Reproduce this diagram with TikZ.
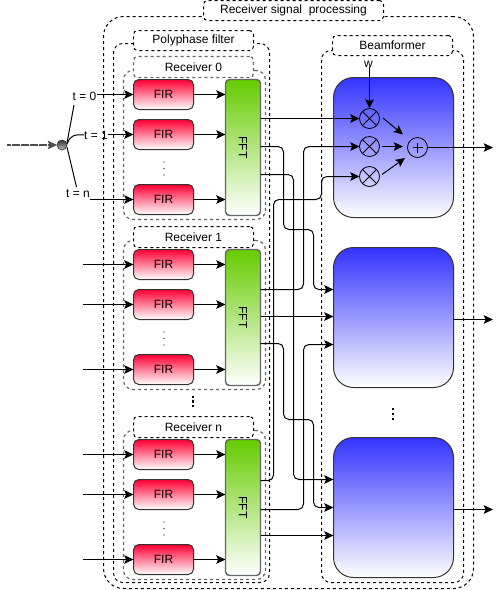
\documentclass[tikz,border=0pt]{standalone}
\usepackage{fontspec}
\setmainfont{Liberation Sans}
\usetikzlibrary{arrows.meta}
\definecolor{firtop}{HTML}{FF0033}
\definecolor{ffttop}{HTML}{66CC00}
\definecolor{bftop}{HTML}{3333FF}
\definecolor{edge}{HTML}{333333}
\definecolor{grayedge}{HTML}{666666}
\tikzset{
  x=0.75pt,y=-0.75pt,
  basebox/.style={rectangle,outer sep=0pt,inner sep=0pt,font=\fontsize{9}{11}\selectfont},
  outerbox/.style={basebox,draw=black,dashed,line width=0.75pt,dash pattern=on 2.25pt off 2.25pt},
  graybox/.style={basebox,draw=grayedge,line width=0.9pt,dash pattern=on 2.25pt off 2.25pt},
  titlebox/.style={outerbox,fill=white,rounded corners=3pt},
  graytitle/.style={graybox,fill=white,rounded corners=3pt},
  firbox/.style={basebox,draw=edge,line width=0.75pt,rounded corners=4pt,top color=firtop,bottom color=white,middle color=firtop!50!white},
  fftbox/.style={basebox,draw=grayedge,line width=1.1pt,rounded corners=3pt,top color=ffttop,bottom color=white,middle color=ffttop!50!white},
  bfbox/.style={basebox,draw=edge,line width=0.75pt,rounded corners=15pt,top color=bftop,bottom color=white,middle color=bftop!50!white},
  opnode/.style={circle,draw=black,line width=0.6pt,minimum size=15pt,inner sep=0pt,outer sep=0pt},
  arr/.style={line width=0.75pt,draw=black,-{Stealth[length=7pt,width=6.5pt,inset=1.5pt]}},
  wire/.style={arr,rounded corners=4pt},
  plain/.style={line width=0.75pt,draw=black},
  lbl/.style={font=\fontsize{9}{11}\selectfont,inner sep=0pt},
  vdots/.style={circle,fill=black,inner sep=0pt,minimum size=0.8pt},
  bdots/.style={rectangle,fill=black,inner sep=0pt,minimum size=2pt}
}
\newcommand{\Bx}[7]{\node[#6,minimum width={(#4-#2)*0.75pt},minimum height={(#5-#3)*0.75pt}] (#1) at ({(#2+#4)/2+0.5},{(#3+#5)/2+0.5}) {#7};}
\newcommand{\FFTtxt}{\rotatebox{-90}{FFT}}
\begin{document}
\begin{tikzpicture}
\useasboundingbox (0,0) rectangle (502,590);
% containers
\Bx{outer}{103}{16}{473}{588}{outerbox,rounded corners=15pt}{}
\Bx{poly}{113}{43}{269}{582}{outerbox,rounded corners=7pt}{}
\Bx{beam}{321}{50}{463}{582}{outerbox,rounded corners=7pt}{}
\Bx{rx0}{123}{70}{265}{219}{graybox,rounded corners=7pt}{}
\Bx{rx1}{123}{240}{265}{389}{graybox,rounded corners=7pt}{}
\Bx{rxn}{123}{430}{265}{579}{graybox,rounded corners=7pt}{}
% titles
\Bx{touter}{203}{0}{383}{20}{titlebox}{Receiver signal\ \ processing}
\Bx{tpoly}{133}{30}{253}{50}{titlebox}{Polyphase filter}
\Bx{tbeam}{332}{35}{452}{55}{titlebox}{Beamformer}
\Bx{trx0}{133}{56}{253}{77}{graytitle}{Receiver 0}
\Bx{trx1}{133}{226}{253}{247}{titlebox}{Receiver 1}
\Bx{trxn}{133}{416}{253}{437}{titlebox}{Receiver n}
% FIR
\Bx{fa}{133}{79}{193}{109}{firbox}{FIR}
\Bx{fb}{133}{119}{193}{149}{firbox}{FIR}
\Bx{fc}{133}{184}{193}{214}{firbox}{FIR}
\Bx{ga}{133}{249}{193}{279}{firbox}{FIR}
\Bx{gb}{133}{289}{193}{319}{firbox}{FIR}
\Bx{gc}{133}{354}{193}{384}{firbox}{FIR}
\Bx{ha}{133}{439}{193}{469}{firbox}{FIR}
\Bx{hb}{133}{479}{193}{509}{firbox}{FIR}
\Bx{hc}{133}{544}{193}{574}{firbox}{FIR}
% FFT
\Bx{fft0}{225}{79}{260}{215}{fftbox}{\FFTtxt}
\Bx{fft1}{225}{249}{260}{385}{fftbox}{\FFTtxt}
\Bx{fftn}{225}{439}{260}{575}{fftbox}{\FFTtxt}
% beam blocks
\Bx{bf0}{333}{77}{453}{217}{bfbox}{}
\Bx{bf1}{333}{247}{453}{387}{bfbox}{}
\Bx{bf2}{333}{437}{453}{577}{bfbox}{}
% operators
\node[opnode] (m1) at (369.5,118.5) {};
\node[opnode] (m2) at (369.5,146.5) {};
\node[opnode] (m3) at (369.5,176.5) {};
\node[opnode] (sum) at (417.5,147.5) {};
\foreach \m in {m1,m2,m3}{
  \draw[line width=0.6pt] (\m.north east)--(\m.south west) (\m.north west)--(\m.south east);
}
\draw[line width=0.6pt] (sum.center)+(-5,0) -- +(5,0) (sum.center)+(0,-5) -- +(0,5);
\node[lbl] (w) at (368.5,64) {w};
\draw[arr] (m1.north |- w.south) -- (m1.north);
\draw[arr] (383,118) -- (403,134.5);
\draw[arr] (382,146.5) -- (403,146.5);
\draw[arr] (382,174.5) -- (405,158);
\coordinate (o0) at (493,147.5);
\coordinate (o1) at (493,319.5);
\coordinate (o2) at (493,509.5);
\draw[arr] (sum.east) -- (o0);
\draw[arr] (bf1.east |- o1) -- (o1);
\draw[arr] (bf2.east |- o2) -- (o2);
% input splitter
\coordinate (in) at (7,145);
\node[circle,draw=edge,line width=0.5pt,minimum size=7.5pt,inner sep=0pt,outer sep=0pt,top color=black!80,bottom color=black!25] (sp) at (62,145) {};
\draw[arr,draw=black!70,line width=0.9pt,dash pattern=on 3pt off 0.4pt] (in) -- (sp.west);
\node[lbl] (t0) at (84.5,96) {t = 0};
\node[lbl] (t1) at (96,135) {t = 1};
\node[lbl] (tn) at (78,194) {t = n};
\coordinate (c0) at (74,105);
\coordinate (cn) at (76.5,187);
\draw[plain] (67,143) -- (c0);
\draw[plain] (67,147) -- (cn);
\draw[plain] (67,144) .. controls (70,136) and (74,134) .. (t1.west);
\draw[arr] (t0.east |- fa.west) -- (fa.west);
\draw[arr] (t1.east |- fb.west) -- (fb.west);
\draw[arr] (90,199.5) -- (fc.west);
% other inputs
\foreach \n/\y in {ga/264.5,gb/304.5,gc/369.5,ha/454.5,hb/494.5,hc/559.5}{
  \coordinate (i\n) at (83,\y);
  \draw[arr] (i\n) -- (\n.west);
}
% FIR to FFT
\foreach \n/\t in {fa/fft0,fb/fft0,fc/fft0,ga/fft1,gb/fft1,gc/fft1,ha/fftn,hb/fftn,hc/fftn}{
  \draw[arr] (\n.east) -- (\n.east -| \t.west);
}
% dots
\foreach \y in {162,168.5,175}{\node[vdots] at (164,\y) {};}
\foreach \y in {332,338.5,345}{\node[vdots] at (164,\y) {};}
\foreach \y in {522,528.5,535}{\node[vdots] at (164,\y) {};}
\foreach \y in {397,401.5,406}{\node[bdots] at (193,\y) {};}
\foreach \y in {409,414,419}{\node[bdots] at (393,\y) {};}
% crossing connectors
\draw[arr] (fft0.east |- m1.west) -- (m1.west);
\draw[wire] (fft0.east |- 0,146.5) -- (283.5,146.5) -- (283.5,229.5) -- (313.5,229.5) -- (313.5,289.5) -- (bf1.west |- 0,289.5);
\draw[wire] (fft0.east |- 0,174.5) -- (293.5,174.5) -- (293.5,479.5) -- (bf2.west |- 0,479.5);
\draw[wire] (fft1.east |- 0,289.5) -- (303.5,289.5) -- (303.5,146.5) -- (m2.west);
\draw[arr] (fft1.east |- 0,316.5) -- (bf1.west |- 0,316.5);
\draw[wire] (fft1.east |- 0,343.5) -- (283.5,343.5) -- (283.5,419.5) -- (313.5,419.5) -- (313.5,507.5) -- (bf2.west |- 0,507.5);
\draw[wire] (fftn.east |- 0,480.5) -- (273.5,480.5) -- (273.5,199.5) -- (321.5,199.5) -- (321.5,176.5) -- (m3.west);
\draw[wire] (fftn.east |- 0,509.5) -- (303.5,509.5) -- (303.5,344.5) -- (bf1.west |- 0,344.5);
\draw[arr] (fftn.east |- 0,535.5) -- (bf2.west |- 0,535.5);
\end{tikzpicture}
\end{document}
